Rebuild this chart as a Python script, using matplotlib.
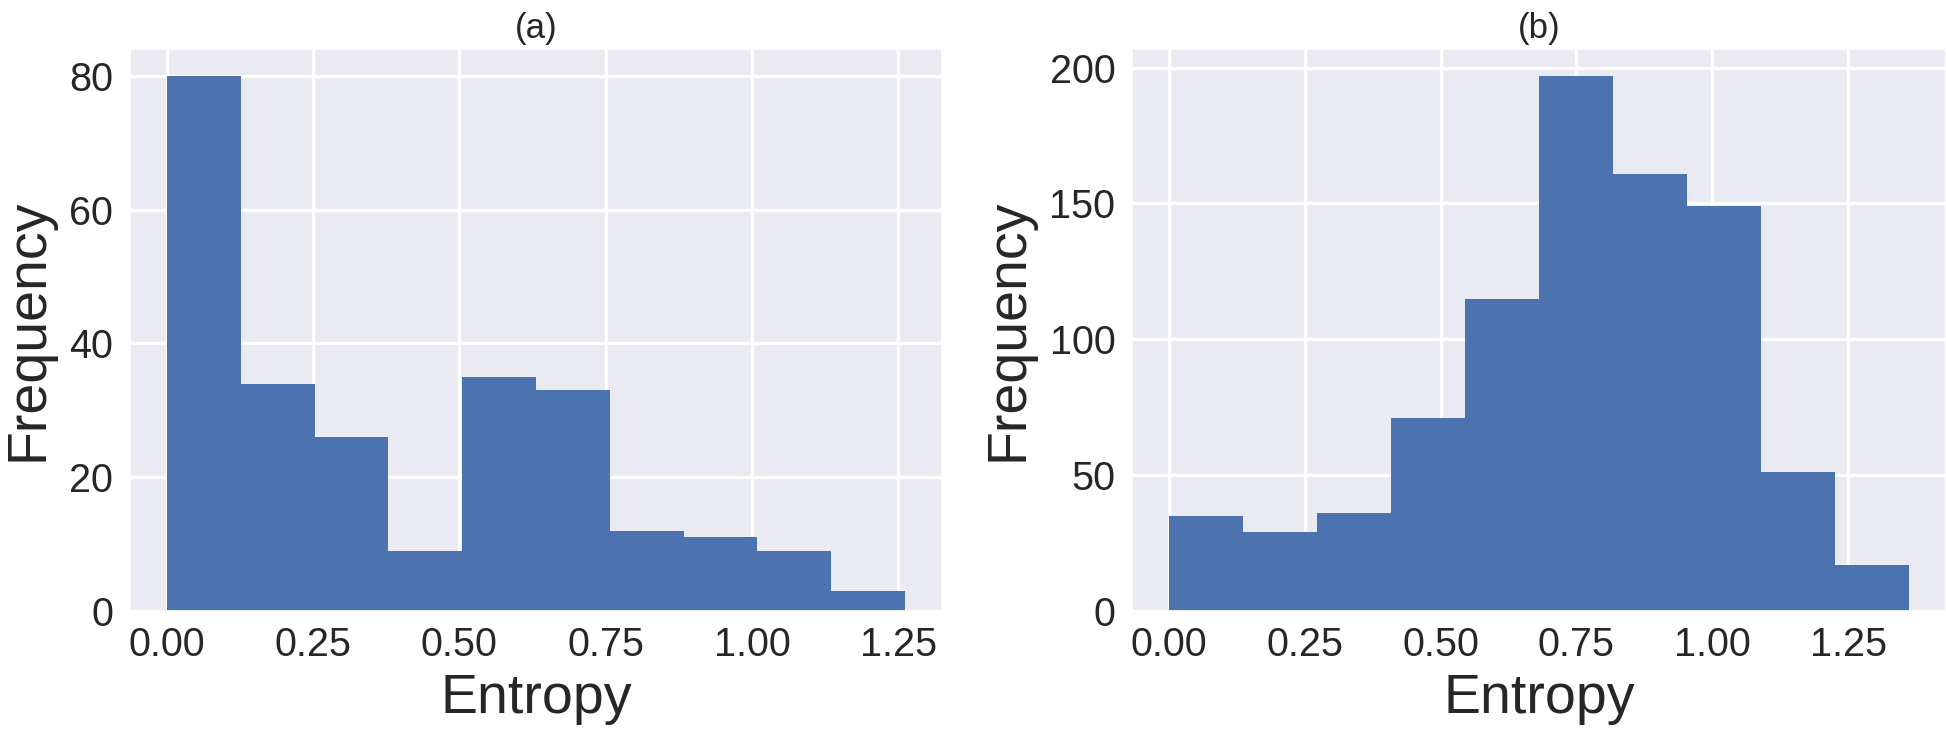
import numpy as np
import matplotlib
matplotlib.use("Agg")
import matplotlib.pyplot as plt
import seaborn as sns

# ---- data ----
counts_a = [80, 34, 26, 9, 35, 33, 12, 11, 9, 3]
entropy_max_a = 1.262
counts_b = [35, 29, 36, 71, 115, 197, 161, 149, 51, 17]
entropy_max_b = 1.362
titles = ["(a)", "(b)"]
xlabel = "Entropy"
ylabel = "Frequency"
xticks = [0.0, 0.25, 0.5, 0.75, 1.0, 1.25]
yticks_a = [0, 20, 40, 60, 80]
yticks_b = [0, 50, 100, 150, 200]

sns.set_theme(style="darkgrid")
plt.rcParams["font.family"] = ["Liberation Sans", "DejaVu Sans"]
plt.rcParams["grid.linewidth"] = 2.4

fig = plt.figure(figsize=(19.46, 7.33), dpi=100)
ax_a = fig.add_axes([0.0668, 0.1664, 0.4173, 0.7667])
ax_b = fig.add_axes([0.5817, 0.1664, 0.4183, 0.7667])

for ax, counts, emax, title, yt in [(ax_a, counts_a, entropy_max_a, titles[0], yticks_a),
                                    (ax_b, counts_b, entropy_max_b, titles[1], yticks_b)]:
    edges = np.linspace(0, emax, len(counts) + 1)
    ax.hist(edges[:-1], bins=edges, weights=counts, color="#4C72B0", linewidth=0)
    ax.set_title(title, fontsize=25, pad=8)
    ax.set_xlabel(xlabel, fontsize=40, labelpad=6)
    ax.set_ylabel(ylabel, fontsize=40, labelpad=11)
    ax.set_xticks(xticks)
    ax.set_xticklabels([f"{t:.2f}" for t in xticks])
    ax.set_yticks(yt)
    ax.tick_params(axis="x", labelsize=28.5, pad=11, length=0)
    ax.tick_params(axis="y", labelsize=28.5, pad=12, length=0)

fig.savefig("out.png", dpi=100)
